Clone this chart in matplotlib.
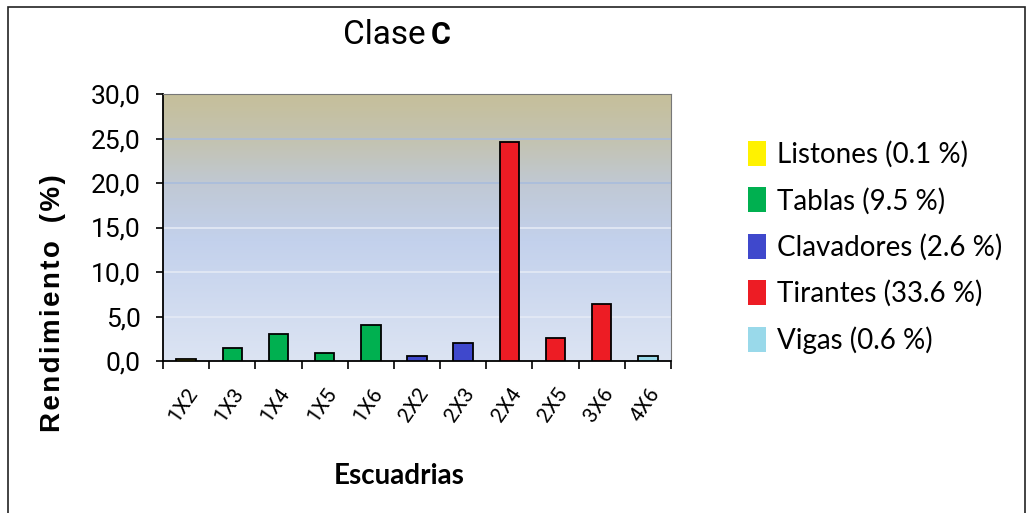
import matplotlib
matplotlib.use("Agg")
import matplotlib.pyplot as plt
import numpy as np
from matplotlib.patches import Patch, Rectangle
from matplotlib.colors import LinearSegmentedColormap
import matplotlib.transforms as mtransforms

categories = ["1X2", "1X3", "1X4", "1X5", "1X6", "2X2", "2X3", "2X4", "2X5", "3X6", "4X6"]
values = [0.2, 1.5, 3.0, 0.9, 4.1, 0.6, 2.0, 24.6, 2.6, 6.4, 0.6]
groups = ["Listones", "Tablas", "Tablas", "Tablas", "Tablas", "Clavadores", "Clavadores",
          "Tirantes", "Tirantes", "Tirantes", "Vigas"]
legend_labels = ["Listones (0.1 %)", "Tablas (9.5 %)", "Clavadores (2.6 %)",
                 "Tirantes (33.6 %)", "Vigas (0.6 %)"]
group_names = ["Listones", "Tablas", "Clavadores", "Tirantes", "Vigas"]
yticks = [0, 5, 10, 15, 20, 25, 30]
ytick_labels = ["0,0", "5,0", "10,0", "15,0", "20,0", "25,0", "30,0"]

colors = {"Listones": "#FFF200", "Tablas": "#00B050", "Clavadores": "#3F48CC",
          "Tirantes": "#ED1C24", "Vigas": "#99D9EA"}

narrow = ["Roboto", "DejaVu Sans"]

fig = plt.figure(figsize=(10.30, 5.13), dpi=100)
fig.patch.set_facecolor("white")
fig.patches.append(Rectangle((8/1030, -0.01), 1017/1030, 1 - 7/513 + 0.01, transform=fig.transFigure,
                             fill=False, edgecolor="#222222", linewidth=1.2))

ax = fig.add_axes([163/1030, 1 - 361/513, 508/1030, 267/513])

cmap = LinearSegmentedColormap.from_list("bg", [(0.0, "#DCE4F3"), (0.45, "#C3D1EC"),
                                               (0.65, "#C0C9D6"), (0.82, "#C3C3B2"),
                                               (1.0, "#C6BF9A")])
grad = np.linspace(0, 1, 256).reshape(-1, 1)
ax.imshow(grad, aspect="auto", cmap=cmap, origin="lower",
          extent=[-0.5, len(categories) - 0.5, 0, 30], zorder=0)

x = np.arange(len(categories))
for i, (v, g) in enumerate(zip(values, groups)):
    ax.bar(x[i], v, width=0.42, color=colors[g], edgecolor="black", linewidth=1.3, zorder=3)

ax.set_xlim(-0.5, len(categories) - 0.5)
ax.set_ylim(0, 30)
for yv in yticks[1:-1]:
    c = "#A9BDDD" if yv >= 20 else "#E4EAF5"
    ax.axhline(yv, color=c, linewidth=1.2, zorder=1)

ax.set_yticks(yticks)
ax.set_yticklabels(ytick_labels, fontsize=19, family=narrow)
ax.set_xticks(x)
ax.set_xticklabels(categories, rotation=55, fontsize=15, ha="right", va="top",
                   rotation_mode="anchor", family=narrow)
offset = mtransforms.ScaledTranslation(3/100, 0, fig.dpi_scale_trans)
for lab in ax.get_xticklabels():
    lab.set_transform(lab.get_transform() + offset)
ax.set_xticks(np.arange(-0.5, len(categories), 1), minor=True)
ax.tick_params(axis="x", which="major", length=0, pad=17)
ax.tick_params(axis="x", which="minor", length=6, width=1.2, direction="out")
ax.tick_params(axis="y", length=5, width=1.2, direction="out", pad=11)

for s in ["left", "bottom"]:
    ax.spines[s].set_color("black")
    ax.spines[s].set_linewidth(1.3)
for s in ["top", "right"]:
    ax.spines[s].set_color("#777777")
    ax.spines[s].set_linewidth(0.8)

hs = "\u200A"
ylabel_text = hs.join("Rendimiento") + hs + "  " + hs.join("(%)")
ax.set_ylabel(ylabel_text, fontsize=20, fontweight="bold",
              family=["Liberation Sans", "DejaVu Sans"])
ax.yaxis.set_label_coords(-0.191, 0.215)
ax.set_xlabel("Escuadrias", fontsize=20, fontweight="bold", family=["Lato", "DejaVu Sans"])
ax.xaxis.set_label_coords(0.465, -0.383)

fig.text(426/1030, 1 - 35/513, "Clase", fontsize=24, ha="right", va="center", family=narrow)
fig.text(431/1030, 1 - 35/513, "C", fontsize=22, fontweight="bold",
         family=narrow, ha="left", va="center")

handles = [Patch(facecolor=colors[g], edgecolor="none") for g in group_names]
leg = fig.legend(handles, legend_labels, loc="upper left", bbox_to_anchor=(723/1030, 1 - 116/513),
                 frameon=False, handlelength=0.65, handleheight=1.0,
                 handletextpad=0.4, labelspacing=0.70,
                 prop={"family": ["Lato", "DejaVu Sans"], "size": 20})

fig.savefig("out.png", dpi=100)
